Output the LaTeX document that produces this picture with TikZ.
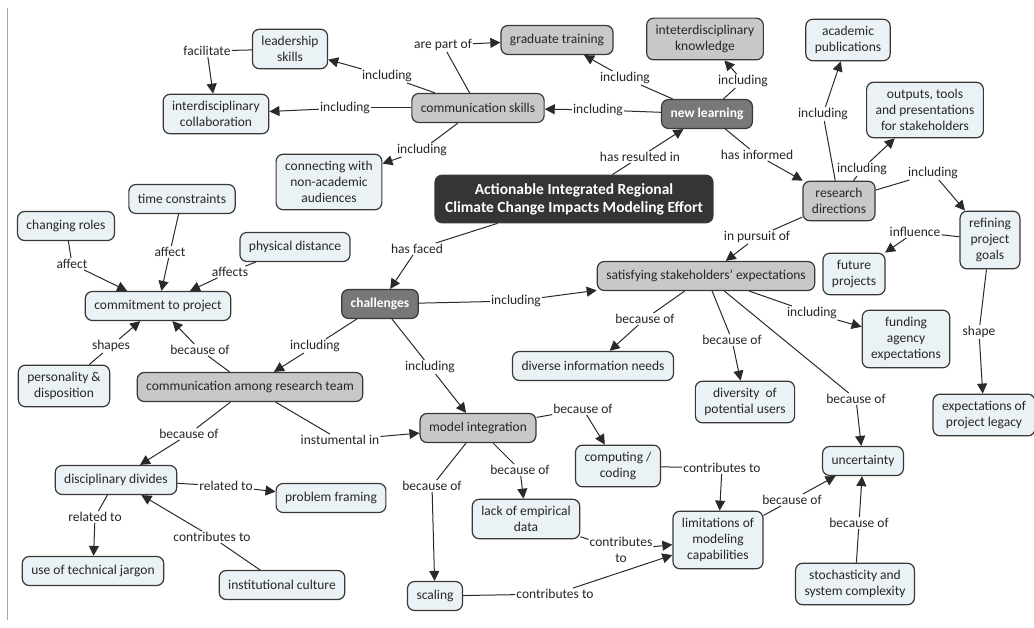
\documentclass[tikz,border=0pt]{standalone}
\usepackage{fontspec}
\setmainfont{Carlito}
\usetikzlibrary{arrows.meta}

\definecolor{boxline}{HTML}{383838}
\definecolor{linecol}{HTML}{2A2A2A}
\definecolor{textdark}{HTML}{262626}
\definecolor{lightfill}{HTML}{EBF2F5}
\definecolor{greyfill}{HTML}{C8C8C8}
\definecolor{darkfill}{HTML}{787878}
\definecolor{mainfill}{HTML}{353535}

\tikzset{
  concept/.style={draw=boxline, line width=1.2pt, rounded corners=7pt, align=center,
    inner xsep=9pt, inner ysep=7pt, minimum height=29pt,
    font=\fontsize{13.5}{16}\selectfont, text=textdark},
  light/.style={concept, fill=lightfill},
  grey/.style={concept, fill=greyfill},
  dark/.style={concept, fill=darkfill, text=white, font=\fontsize{13.5}{16}\selectfont\bfseries},
  mainbox/.style={concept, fill=mainfill, text=white, inner xsep=10pt, inner ysep=8pt,
    font=\fontsize{15.5}{18}\selectfont\bfseries},
  lbl/.style={fill=white, inner sep=1pt, font=\fontsize{13.5}{16}\selectfont, text=textdark, align=center},
  link/.style={draw=linecol, line width=1pt},
  arr/.style={link, -{Triangle[length=10pt,width=10pt]}}
}

\begin{document}
\begin{tikzpicture}[x=1pt,y=-1pt]
  \useasboundingbox (0,0) rectangle (1034,628);
  \draw[gray!70, line width=0.8pt] (7,8) -- (7,620);

  % concepts
  \node[mainbox] (main) at (574,199) {Actionable Integrated Regional\\Climate Change Impacts Modeling Effort};
  \node[dark] (learn) at (707,114) {new learning};
  \node[dark] (chall) at (380,304) {challenges};
  \node[grey] (commsk) at (478,108) {communication skills};
  \node[grey] (grad) at (557,40) {graduate training};
  \node[grey] (know) at (705,39) {inteterdisciplinary\\knowledge};
  \node[grey] (research) at (839,201) {research\\directions};
  \node[grey] (satisfy) at (706,276) {satisfying stakeholders' expectations};
  \node[grey] (model) at (478,428) {model integration};
  \node[grey] (team) at (250,387) {communication among research team};
  \node[light] (lead) at (290,49) {leadership\\skills};
  \node[light] (collab) at (216,114) {interdisciplinary\\collaboration};
  \node[light] (connect) at (329,182) {connecting with\\non-academic\\audiences};
  \node[light] (acad) at (848,40) {academic\\publications};
  \node[light] (outputs) at (925,110) {outputs, tools\\and presentations\\for stakeholders};
  \node[light] (refine) at (990,240) {refining\\project\\goals};
  \node[light] (future) at (854,274) {future\\projects};
  \node[light] (legacy) at (984,415) {expectations of\\project legacy};
  \node[light] (funding) at (906,339) {funding\\agency\\expectations};
  \node[light] (diverse) at (593,366) {diverse information needs};
  \node[light] (diversity) at (745,402) {diversity\ \ of\\potential users};
  \node[light] (uncert) at (863,461) {uncertainty};
  \node[light] (limits) at (718,540) {limitations of\\modeling\\capabilities};
  \node[light] (stoch) at (855,584) {stochasticity and\\system complexity};
  \node[light] (computing) at (618,466) {computing /\\coding};
  \node[light] (lack) at (526,519) {lack of empirical\\data};
  \node[light] (scaling) at (435,596) {scaling};
  \node[light] (commit) at (158,306) {commitment to project};
  \node[light] (roles) at (66,226) {changing roles};
  \node[light] (time) at (182,199) {time constraints};
  \node[light] (dist) at (295,247) {physical distance};
  \node[light] (person) at (64,386) {personality \&\\disposition};
  \node[light] (divides) at (116,480) {disciplinary divides};
  \node[light] (framing) at (331,498) {problem framing};
  \node[light] (jargon) at (93,571) {use of technical jargon};
  \node[light] (inst) at (282,585) {institutional culture};

  % linking phrases
  \node[lbl] (l1) at (207,51) {facilitate};
  \node[lbl] (l2) at (387,76) {including};
  \node[lbl] (l3) at (345,108) {including};
  \node[lbl] (l4) at (422,150) {including};
  \node[lbl] (l5) at (443,45) {are part of};
  \node[lbl] (l6) at (598,110) {including};
  \node[lbl] (l7) at (625,78) {including};
  \node[lbl] (l8) at (743,81) {including};
  \node[lbl] (l9) at (640,157) {has resulted in};
  \node[lbl] (l10) at (757,155) {has informed};
  \node[lbl] (l11) at (823,114) {including};
  \node[lbl] (l12) at (862,169) {including};
  \node[lbl] (l13) at (933,173) {including};
  \node[lbl] (l14) at (915,232) {influence};
  \node[lbl] (l15) at (979,332) {shape};
  \node[lbl] (l16) at (757,237) {in pursuit of};
  \node[lbl] (l17) at (417,249) {has faced};
  \node[lbl] (l18) at (516,301) {including};
  \node[lbl] (l19) at (645,319) {because of};
  \node[lbl] (l20) at (732,340) {because of};
  \node[lbl] (l21) at (812,313) {including};
  \node[lbl] (l22) at (856,399) {because of};
  \node[lbl] (l23) at (430,367) {including};
  \node[lbl] (l24) at (315,346) {including};
  \node[lbl] (l25) at (72,264) {affect};
  \node[lbl] (l26) at (170,252) {affect};
  \node[lbl] (l27) at (230,272) {affects};
  \node[lbl] (l28) at (111,346) {shapes};
  \node[lbl] (l29) at (200,350) {because of};
  \node[lbl] (l30) at (189,434) {because of};
  \node[lbl] (l31) at (340,440) {instumental in};
  \node[lbl] (l32) at (226,486) {related to};
  \node[lbl] (l33) at (95,517) {related to};
  \node[lbl] (l34) at (212,537) {contributes to};
  \node[lbl] (l35) at (583,409) {because of};
  \node[lbl] (l36) at (520,470) {because of};
  \node[lbl] (l37) at (432,486) {because of};
  \node[lbl] (l38) at (555,594) {contributes to};
  \node[lbl] (l39) at (621,550) {contributes\\to};
  \node[lbl] (l40) at (722,468) {contributes to};
  \node[lbl] (l41) at (792,500) {because of};
  \node[lbl] (l42) at (859,523) {because of};

  % communication skills branch
  \draw[link] (lead) -- (l1);  \draw[arr] (l1) -- (collab);
  \draw[link] (commsk) -- (l2);  \draw[arr] (l2) -- (lead);
  \draw[link] (commsk) -- (l3);  \draw[arr] (l3) -- (collab);
  \draw[link] (commsk) -- (l4);  \draw[arr] (l4) -- (connect);
  \draw[link] (commsk) -- (l5);  \draw[arr] (l5) -- (grad);

  % new learning
  \draw[link] (learn) -- (l6);  \draw[arr] (l6) -- (commsk);
  \draw[link] (learn) -- (l7);  \draw[arr] (l7) -- (grad);
  \draw[link] (learn) -- (l8);  \draw[arr] (l8) -- (know);
  \draw[link] (main) -- (l9);  \draw[arr] (l9) -- (learn);
  \draw[link] (learn) -- (l10);  \draw[arr] (l10) -- (research);

  % research directions
  \draw[link] (research) -- (l11);  \draw[arr] (l11) -- (acad);
  \draw[link] (research) -- (l12);  \draw[arr] (l12) -- (outputs);
  \draw[link] (research) -- (l13);  \draw[arr] (l13) -- (refine);
  \draw[link] (refine) -- (l14);  \draw[arr] (l14) -- (future);
  \draw[link] (refine) -- (l15);  \draw[arr] (l15) -- (legacy);
  \draw[link] (research) -- (l16);  \draw[arr] (l16) -- (satisfy);

  % challenges
  \draw[link] (main) -- (l17);  \draw[arr] (l17) -- (chall);
  \draw[link] (chall) -- (l18);  \draw[arr] (l18) -- (satisfy);
  \draw[link] (satisfy) -- (l19);  \draw[arr] (l19) -- (diverse);
  \draw[link] (satisfy) -- (l20);  \draw[arr] (l20) -- (diversity);
  \draw[link] (satisfy) -- (l21);  \draw[arr] (l21) -- (funding);
  \draw[link] (satisfy) -- (l22);  \draw[arr] (l22) -- (uncert);
  \draw[link] (chall) -- (l23);  \draw[arr] (l23) -- (model);
  \draw[link] (chall) -- (l24);  \draw[arr] (l24) -- (team);

  % commitment
  \draw[link] (roles) -- (l25);  \draw[arr] (l25) -- (commit);
  \draw[link] (time) -- (l26);  \draw[arr] (l26) -- (commit);
  \draw[link] (dist) -- (l27);  \draw[arr] (l27) -- (commit);
  \draw[link] (person) -- (l28);  \draw[arr] (l28) -- (commit);
  \draw[link] (team) -- (l29);  \draw[arr] (l29) -- (commit);

  % team and divides
  \draw[link] (team) -- (l30);  \draw[arr] (l30) -- (divides);
  \draw[link] (team) -- (l31);  \draw[arr] (l31) -- (model);
  \draw[link] (divides) -- (l32);  \draw[arr] (l32) -- (framing);
  \draw[link] (divides) -- (l33);  \draw[arr] (l33) -- (jargon);
  \draw[link] (inst) -- (l34);  \draw[arr] (l34) -- (divides);

  % model integration
  \draw[link] (model) -- (l35);  \draw[arr] (l35) -- (computing);
  \draw[link] (model) -- (l36);  \draw[arr] (l36) -- (lack);
  \draw[link] (model) -- (l37);  \draw[arr] (l37) -- (scaling);
  \draw[link] (scaling) -- (l38);  \draw[arr] (l38) -- (limits);
  \draw[link] (lack) -- (l39);  \draw[arr] (l39) -- (limits);
  \draw[link] (computing) -- (l40);  \draw[arr] (l40) -- (limits);
  \draw[link] (limits) -- (l41);  \draw[arr] (l41) -- (uncert);
  \draw[link] (stoch) -- (l42);  \draw[arr] (l42) -- (uncert);
\end{tikzpicture}
\end{document}
